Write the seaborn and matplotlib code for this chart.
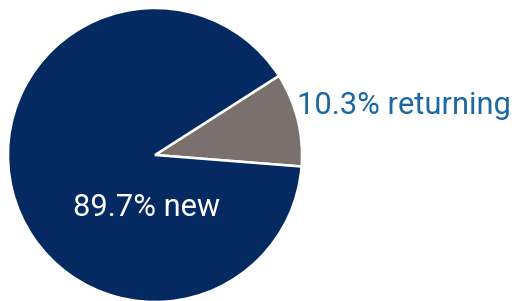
import matplotlib
matplotlib.use("Agg")
import matplotlib.pyplot as plt
import seaborn as sns

segments = ["returning", "new"]
shares = [10.3, 89.7]
seg_colors = ["#7a706e", "#052a62"]

sns.set_theme(style="white")
plt.rcParams["font.family"] = ["Roboto", "DejaVu Sans"]

W, H = 517, 301
fig = plt.figure(figsize=(W / 100, H / 100), dpi=100)
# pie centre at (155, 155) px, radius 147 px
cx, cy, r = 155, 155, 147
ax = fig.add_axes([(cx - r) / W, (H - cy - r) / H, 2 * r / W, 2 * r / H])

ax.pie(shares, colors=seg_colors, startangle=-4.5, counterclock=True,
       wedgeprops={"edgecolor": "white", "linewidth": 1.8})
ax.set_xlim(-1, 1)
ax.set_ylim(-1, 1)
ax.set_aspect("equal")
ax.axis("off")

ax.text((297 - cx) / r, (cy - 105) / r, f"{shares[0]}% {segments[0]}",
        ha="left", va="center", fontsize=22.2, color="#1b68a4", clip_on=False)
ax.text((147 - cx) / r, (cy - 208) / r, f"{shares[1]}% {segments[1]}",
        ha="center", va="center", fontsize=22.2, color="white", clip_on=False)

fig.savefig("out.png", dpi=100)
